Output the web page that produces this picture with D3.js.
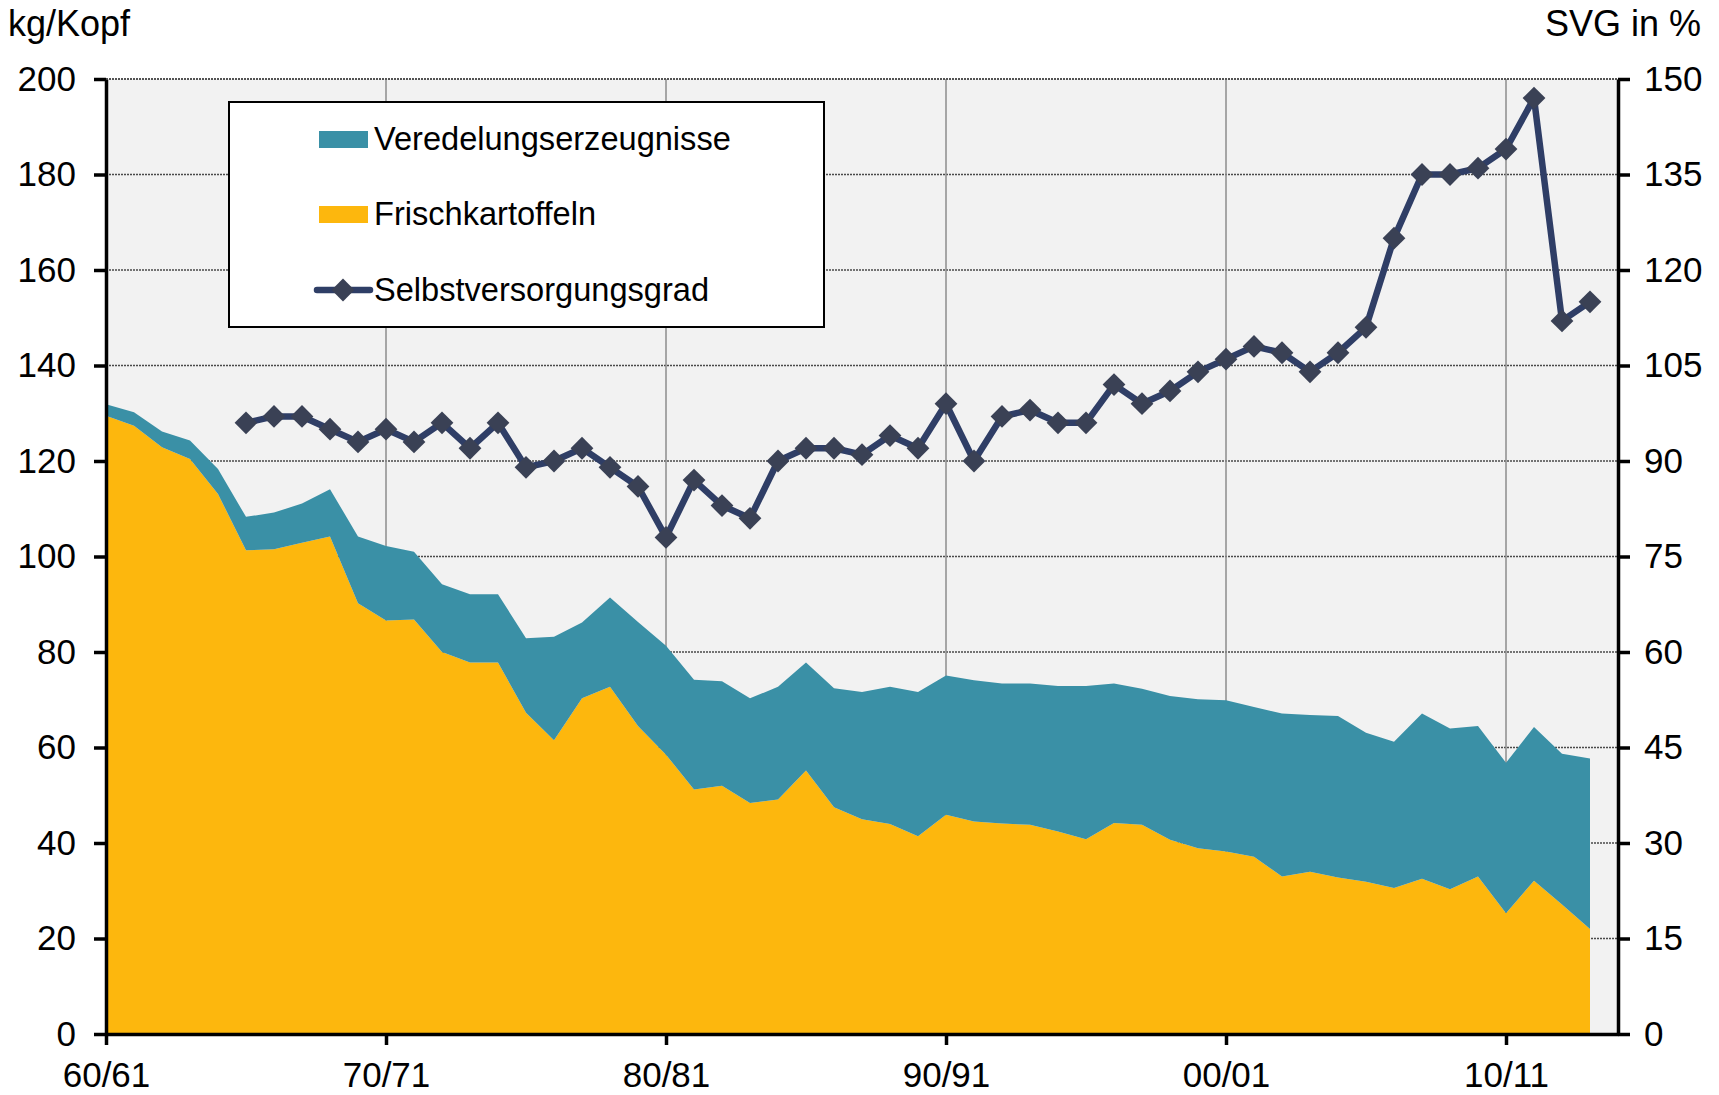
<!DOCTYPE html>
<html>
<head>
<meta charset="utf-8">
<script src="https://cdn.jsdelivr.net/npm/d3@7"></script>
<style>
  body { margin: 0; background: #fff; }
  text { font-family: "Liberation Sans", Arial, sans-serif; fill: #000; }
</style>
</head>
<body>
<div id="chart"></div>
<script>
// Wirtschaftsjahre 60/61 .. 13/14
const seasons = [
  "60/61","61/62","62/63","63/64","64/65","65/66","66/67","67/68","68/69","69/70",
  "70/71","71/72","72/73","73/74","74/75","75/76","76/77","77/78","78/79","79/80",
  "80/81","81/82","82/83","83/84","84/85","85/86","86/87","87/88","88/89","89/90",
  "90/91","91/92","92/93","93/94","94/95","95/96","96/97","97/98","98/99","99/00",
  "00/01","01/02","02/03","03/04","04/05","05/06","06/07","07/08","08/09","09/10",
  "10/11","11/12","12/13","13/14"
];

// kg/Kopf
const frischkartoffeln = [
  129.5,127.4,122.9,120.4,113.1,101.3,101.5,102.9,104.2,90.2,
  86.6,86.8,80.0,77.8,77.8,67.3,61.5,70.3,72.7,64.5,
  58.5,51.2,52.0,48.4,49.1,55.2,47.5,45.0,44.0,41.4,
  45.9,44.5,44.1,43.8,42.4,40.8,44.2,43.8,40.7,38.9,
  38.2,37.1,33.0,34.0,32.8,31.9,30.6,32.5,30.3,33.0,
  25.3,32.1,27.1,22.0
];

const veredelungserzeugnisse = [
  2.4,2.8,3.3,3.9,5.2,7.0,7.7,8.2,9.9,14.0,
  15.6,14.2,14.2,14.3,14.3,15.6,21.7,15.9,18.7,21.8,
  22.8,23.0,21.9,21.9,23.6,22.6,24.9,26.6,28.7,30.2,
  29.2,29.6,29.3,29.6,30.5,32.1,29.2,28.5,30.1,31.2,
  31.7,31.4,34.1,32.8,33.8,31.2,30.6,34.6,33.7,31.5,
  31.5,32.2,31.6,35.7
];

// Selbstversorgungsgrad in %
const selbstversorgungsgrad = [
  null,null,null,null,null,96,97,97,95,93,
  95,93,96,92,96,89,90,92,89,86,
  78,87,83,81,90,92,92,91,94,92,
  99,90,97,98,96,96,102,99,101,104,
  106,108,107,104,107,111,125,135,135,136,
  139,147,112,115
];

const xTickIndex = [0, 10, 20, 30, 40, 50];
const leftTicks = [0, 20, 40, 60, 80, 100, 120, 140, 160, 180, 200];
const rightTicks = [0, 15, 30, 45, 60, 75, 90, 105, 120, 135, 150];

const legendItems = [
  { name: "Veredelungserzeugnisse", type: "area", color: "#3a90a6" },
  { name: "Frischkartoffeln", type: "area", color: "#fdb70d" },
  { name: "Selbstversorgungsgrad", type: "line", color: "#2f3e66" }
];

const width = 1719, height = 1095;
const margin = { top: 79, right: 101, bottom: 61, left: 106 };
const innerW = width - margin.left - margin.right;
const innerH = height - margin.top - margin.bottom;

const colors = { veredelung: "#3a90a6", frisch: "#fdb70d", line: "#2f3e66", marker: "#3a4155" };

const svg = d3.select("#chart").append("svg")
  .attr("width", width)
  .attr("height", height);

const g = svg.append("g").attr("transform", `translate(${margin.left},${margin.top})`);

const x = d3.scaleLinear().domain([0, 54]).range([0, innerW]);
const y = d3.scaleLinear().domain([0, 200]).range([innerH, 0]);
const y2 = d3.scaleLinear().domain([0, 150]).range([innerH, 0]);

// plot background
g.append("rect")
  .attr("width", innerW)
  .attr("height", innerH)
  .attr("fill", "#f2f2f2");

// horizontal dotted grid
g.append("g")
  .selectAll("line")
  .data(leftTicks.filter(d => d > 0))
  .enter().append("line")
  .attr("x1", 0).attr("x2", innerW)
  .attr("y1", d => y(d)).attr("y2", d => y(d))
  .attr("stroke", "#4a4a4a")
  .attr("stroke-width", 1.3)
  .attr("stroke-dasharray", "2,1");

// vertical grid
g.append("g")
  .selectAll("line")
  .data(xTickIndex.filter(d => d > 0))
  .enter().append("line")
  .attr("x1", d => x(d)).attr("x2", d => x(d))
  .attr("y1", 0).attr("y2", innerH)
  .attr("stroke", "#8c8c8c")
  .attr("stroke-width", 1.5);

// stacked areas
const rows = seasons.map((s, i) => ({
  i,
  frisch: frischkartoffeln[i],
  veredelung: veredelungserzeugnisse[i]
}));

const stack = d3.stack().keys(["frisch", "veredelung"]);
const layers = stack(rows);

const area = d3.area()
  .x(d => x(d.data.i))
  .y0(d => y(d[0]))
  .y1(d => y(d[1]));

g.append("g")
  .selectAll("path")
  .data(layers)
  .enter().append("path")
  .attr("fill", d => colors[d.key])
  .attr("d", area);

// axes
const leftAxis = g.append("g")
  .call(d3.axisLeft(y).tickValues(leftTicks).tickSize(12).tickPadding(18).tickSizeOuter(0));

const rightAxis = g.append("g")
  .attr("transform", `translate(${innerW},0)`)
  .call(d3.axisRight(y2).tickValues(rightTicks).tickSize(12).tickPadding(14).tickSizeOuter(0));

const bottomAxis = g.append("g")
  .attr("transform", `translate(0,${innerH})`)
  .call(d3.axisBottom(x).tickValues(xTickIndex).tickFormat(i => seasons[i])
    .tickSize(11).tickPadding(17).tickSizeOuter(0));

[leftAxis, rightAxis, bottomAxis].forEach(ax => {
  ax.select(".domain").attr("stroke", "#000").attr("stroke-width", 3.5);
  ax.selectAll(".tick line").attr("stroke", "#000").attr("stroke-width", 3.5);
  ax.selectAll(".tick text")
    .style("font-size", "35px")
    .style("font-family", "'Liberation Sans', Arial, sans-serif")
    .attr("fill", "#000");
});

// top border (200 gridline)
g.append("line")
  .attr("x1", 0).attr("x2", innerW)
  .attr("y1", 0).attr("y2", 0)
  .attr("stroke", "#4a4a4a")
  .attr("stroke-width", 1.3)
  .attr("stroke-dasharray", "2,1");

// Selbstversorgungsgrad line
const svgPoints = selbstversorgungsgrad
  .map((v, i) => ({ i, v }))
  .filter(d => d.v != null);

const line = d3.line()
  .x(d => x(d.i))
  .y(d => y2(d.v));

g.append("path")
  .datum(svgPoints)
  .attr("fill", "none")
  .attr("stroke", colors.line)
  .attr("stroke-width", 6.5)
  .attr("stroke-linejoin", "round")
  .attr("d", line);

const diamond = d3.symbol(d3.symbolSquare).size(260);

g.append("g")
  .selectAll("path")
  .data(svgPoints)
  .enter().append("path")
  .attr("d", diamond)
  .attr("fill", colors.marker)
  .attr("transform", d => `translate(${x(d.i)},${y2(d.v)}) rotate(45)`);

// axis titles
svg.append("text")
  .attr("x", 8).attr("y", 36)
  .style("font-size", "36px")
  .text("kg/Kopf");

svg.append("text")
  .attr("x", 1701).attr("y", 36)
  .attr("text-anchor", "end")
  .style("font-size", "36px")
  .text("SVG in %");

// legend
const legend = svg.append("g").attr("transform", "translate(229,102)");

legend.append("rect")
  .attr("width", 595)
  .attr("height", 225)
  .attr("fill", "#fff")
  .attr("stroke", "#000")
  .attr("stroke-width", 2);

const rowsY = [37, 112, 188];

const item = legend.selectAll("g.item")
  .data(legendItems)
  .enter().append("g")
  .attr("class", "item")
  .attr("transform", (d, i) => `translate(0,${rowsY[i]})`);

item.filter(d => d.type === "area")
  .append("rect")
  .attr("x", 90).attr("y", -8)
  .attr("width", 49).attr("height", 17)
  .attr("fill", d => d.color);

const lineItem = item.filter(d => d.type === "line");
lineItem.append("line")
  .attr("x1", 88).attr("x2", 141)
  .attr("y1", 0).attr("y2", 0)
  .attr("stroke", d => d.color)
  .attr("stroke-width", 6.5)
  .attr("stroke-linecap", "round");
lineItem.append("path")
  .attr("d", diamond)
  .attr("fill", colors.marker)
  .attr("transform", "translate(114,0) rotate(45)");

item.append("text")
  .attr("x", 145)
  .attr("y", 0)
  .attr("dy", "0.35em")
  .style("font-size", "32.6px")
  .text(d => d.name);
</script>
</body>
</html>
